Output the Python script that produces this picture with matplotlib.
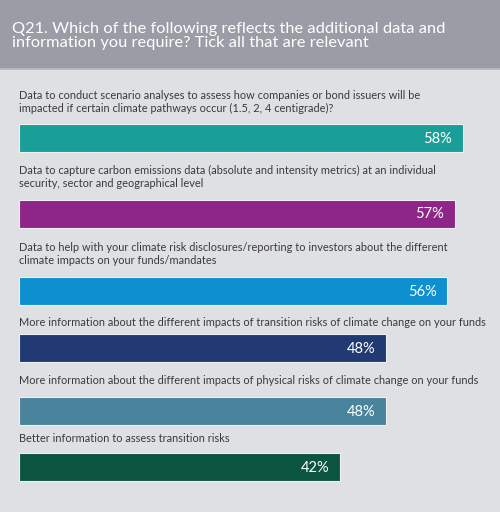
import matplotlib.pyplot as plt

# Survey answers (percent of respondents)
labels = [
    "Data to conduct scenario analyses to assess how companies or bond issuers will be\nimpacted if certain climate pathways occur (1.5, 2, 4 centigrade)?",
    "Data to capture carbon emissions data (absolute and intensity metrics) at an individual\nsecurity, sector and geographical level",
    "Data to help with your climate risk disclosures/reporting to investors about the different\nclimate impacts on your funds/mandates",
    "More information about the different impacts of transition risks of climate change on your funds",
    "More information about the different impacts of physical risks of climate change on your funds",
    "Better information to assess transition risks",
]
values = [58, 57, 56, 48, 48, 42]
colors = ['#1a9e98', '#8e2589', '#0d8fd0', '#213a74', '#4a849c', '#0b5540']

title = ("Q21. Which of the following reflects the additional data and\n"
         "information you require? Tick all that are relevant")

# layout in pixel rows (figure is 500x512)
bar_y = [138, 213.5, 291, 348, 410.5, 467]
label_y = [102, 177, 254, 323, 381, 438]
bar_h = 28
px_per_pct = 7.65
x0 = 19
font = ['Lato', 'DejaVu Sans']

fig = plt.figure(figsize=(5, 5.12), dpi=100)
fig.patch.set_facecolor('#dfe0e4')
ax = fig.add_axes([0, 0, 1, 1])
ax.set_facecolor('#dfe0e4')
ax.set_xlim(-x0 / px_per_pct, (500 - x0) / px_per_pct)
ax.set_ylim(512, 0)
ax.axis('off')

# title band
ax.axhspan(0, 68, color='#9a9da6', zorder=0)
ax.axhline(68.5, color='#b9bbc1', lw=1.2, zorder=1)
ax.text(-7 / px_per_pct, 36, title, color='white', fontsize=11.8,
        family=font, va='center', ha='left', linespacing=1.05)

ax.barh(bar_y, values, height=bar_h, color=colors, edgecolor='#eef0f2',
        linewidth=0.8, zorder=2)
for lab, ly, by, v in zip(labels, label_y, bar_y, values):
    ax.text(0, ly, lab, color='#3a3a3a', fontsize=7.9, family=font,
            va='center', ha='left', linespacing=1.25)
    ax.text(v - 11 / px_per_pct, by + 1, f"{v}%", color='white', fontsize=10.5,
            family=font, va='center', ha='right', zorder=3)

fig.savefig('out.png', dpi=100, facecolor=fig.get_facecolor())
